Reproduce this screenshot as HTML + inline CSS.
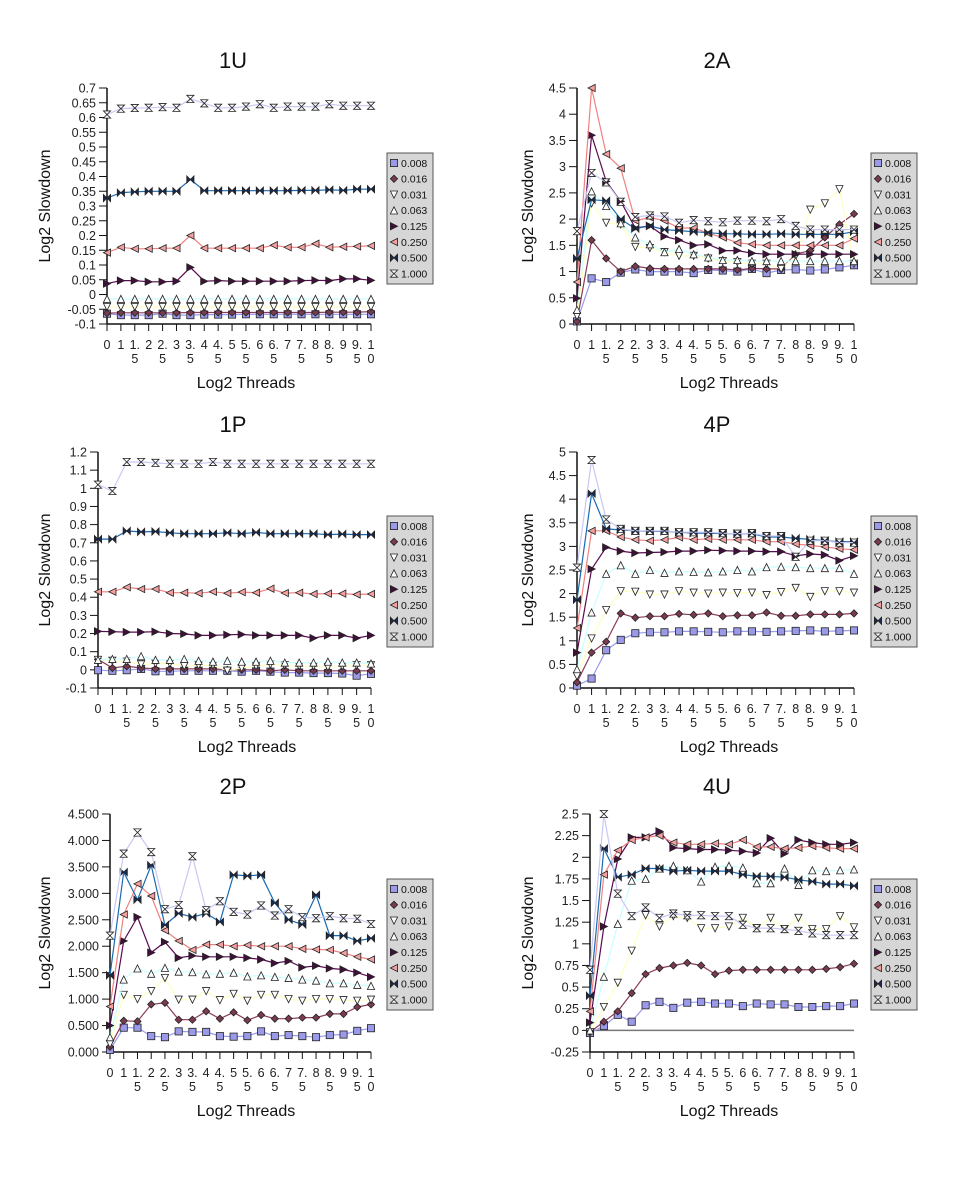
<!DOCTYPE html>
<html><head><meta charset="utf-8">
<style>
html,body{margin:0;padding:0;background:#fff;}
svg{display:block;font-family:"Liberation Sans","DejaVu Sans",sans-serif;}
</style></head>
<body>
<svg id="fig" width="961" height="1177" viewBox="0 0 961 1177" xmlns="http://www.w3.org/2000/svg"></svg>
<script>
const categories = ["0","1","1.5","2","2.5","3","3.5","4","4.5","5","5.5","6","6.5","7","7.5","8","8.5","9","9.5","10"];
const seriesNames = ["0.008","0.016","0.031","0.063","0.125","0.250","0.500","1.000"];

const u1_008 = [-.065,-.07,-.07,-.07,-.065,-.07,-.07,-.068,-.068,-.068,-.067,-.067,-.067,-.067,-.067,-.067,-.067,-.067,-.067,-.067];
const u1_016 = [-.063,-.062,-.062,-.062,-.062,-.062,-.061,-.061,-.061,-.061,-.061,-.061,-.061,-.061,-.061,-.061,-.06,-.06,-.06,-.058];
const u1_031 = [-.042,-.042,-.042,-.042,-.042,-.042,-.042,-.042,-.042,-.042,-.042,-.042,-.042,-.042,-.042,-.042,-.042,-.042,-.042,-.042];
const u1_063 = [-.015,-.015,-.015,-.015,-.015,-.015,-.015,-.015,-.015,-.015,-.015,-.015,-.015,-.015,-.015,-.015,-.015,-.015,-.015,-.015];
const u1_125 = [.037,.047,.047,.043,.043,.045,.092,.045,.047,.045,.045,.045,.045,.045,.047,.048,.047,.053,.053,.048];
const u1_250 = [.142,.16,.155,.155,.157,.157,.2,.157,.157,.157,.157,.157,.167,.16,.16,.172,.16,.162,.163,.165];
const u1_500 = [.327,.345,.348,.35,.35,.35,.39,.352,.352,.352,.352,.352,.352,.352,.353,.353,.355,.353,.357,.357];
const u1_1000 = [.61,.63,.632,.633,.635,.633,.663,.648,.633,.633,.637,.645,.633,.637,.637,.637,.645,.64,.64,.64];

const a2_008 = [.05,.87,.8,.98,1.04,1.0,1.0,1.0,.97,1.03,1.02,1.0,1.05,.97,1.03,1.04,1.02,1.04,1.08,1.12];
const a2_016 = [.05,1.6,1.25,1.0,1.1,1.06,1.05,1.05,1.05,1.05,1.05,1.03,1.06,1.05,1.05,1.33,1.4,1.65,1.9,2.1];
const a2_031 = [.15,2.3,1.93,1.9,1.47,1.45,1.37,1.3,1.3,1.25,1.2,1.18,1.15,1.15,1.05,1.3,2.18,2.3,2.57,1.15];
const a2_063 = [.27,2.53,2.25,1.92,1.65,1.52,1.37,1.43,1.33,1.27,1.22,1.22,1.2,1.2,1.2,1.2,1.2,1.2,1.2,1.2];
const a2_125 = [.49,3.6,2.72,2.34,1.83,1.87,1.67,1.6,1.5,1.52,1.4,1.4,1.35,1.33,1.33,1.33,1.33,1.33,1.33,1.33];
const a2_250 = [.8,4.5,3.24,2.97,1.97,2.03,1.97,1.83,1.83,1.73,1.65,1.55,1.52,1.5,1.5,1.5,1.5,1.5,1.5,1.63];
const a2_500 = [1.25,2.37,2.35,2.0,1.82,1.87,1.8,1.78,1.76,1.74,1.72,1.72,1.71,1.71,1.72,1.71,1.71,1.71,1.71,1.76];
const a2_1000 = [1.77,2.88,2.7,2.33,2.04,2.07,2.05,1.93,1.98,1.96,1.94,1.97,1.97,1.96,2.0,1.87,1.8,1.8,1.8,1.8];

const p1_008 = [-.002,-.005,-.002,.005,-.008,-.008,-.005,-.005,-.005,-.005,-.01,-.005,-.01,-.015,-.015,-.018,-.018,-.02,-.032,-.022];
const p1_016 = [.058,.01,.02,.01,.005,.005,.005,.005,.005,0,0,0,-.005,0,-.005,-.005,-.005,-.005,-.005,-.005];
const p1_031 = [.055,.05,.045,.03,.035,.035,.02,.025,.025,-.005,.01,.02,.03,.025,.02,.02,.015,.02,.025,.025];
const p1_063 = [.055,.06,.06,.075,.055,.055,.06,.05,.045,.05,.045,.045,.05,.04,.04,.04,.045,.04,.04,.035];
const p1_125 = [.212,.21,.208,.208,.21,.2,.198,.19,.19,.193,.195,.19,.19,.19,.19,.175,.19,.19,.175,.19];
const p1_250 = [.43,.43,.455,.445,.445,.425,.425,.422,.43,.422,.428,.425,.447,.423,.425,.418,.42,.42,.415,.418];
const p1_500 = [.72,.72,.765,.76,.762,.755,.75,.75,.75,.755,.75,.757,.75,.75,.75,.75,.745,.748,.745,.745];
const p1_1000 = [1.02,.985,1.145,1.145,1.14,1.135,1.135,1.135,1.145,1.135,1.135,1.135,1.135,1.135,1.135,1.135,1.135,1.135,1.135,1.135];

const p4_008 = [.05,.2,.8,1.02,1.16,1.18,1.18,1.2,1.2,1.19,1.18,1.2,1.2,1.19,1.2,1.21,1.22,1.2,1.21,1.22];
const p4_016 = [.12,.75,.98,1.58,1.49,1.52,1.52,1.57,1.55,1.58,1.52,1.54,1.54,1.6,1.53,1.53,1.56,1.56,1.56,1.58];
const p4_031 = [.25,1.05,1.65,2.05,2.04,1.98,1.98,2.05,2.02,2.0,2.02,2.01,2.02,1.97,2.03,2.12,1.93,2.05,2.05,2.02];
const p4_063 = [.4,1.6,2.42,2.6,2.42,2.5,2.44,2.47,2.46,2.45,2.47,2.5,2.47,2.56,2.57,2.56,2.54,2.54,2.54,2.42];
const p4_125 = [.75,2.52,2.98,2.9,2.86,2.87,2.88,2.9,2.9,2.92,2.91,2.9,2.9,2.89,2.89,2.8,2.84,2.82,2.7,2.8];
const p4_250 = [1.27,3.33,3.33,3.2,3.14,3.12,3.14,3.19,3.14,3.16,3.14,3.14,3.14,3.1,3.1,3.05,3.02,2.99,2.95,2.93];
const p4_500 = [1.87,4.12,3.37,3.35,3.33,3.32,3.32,3.3,3.28,3.28,3.27,3.27,3.27,3.2,3.2,3.17,3.15,3.12,3.1,3.1];
const p4_1000 = [2.55,4.83,3.57,3.37,3.33,3.33,3.33,3.3,3.3,3.3,3.28,3.27,3.28,3.22,3.22,2.78,3.12,3.12,3.08,3.08];

const p2_008 = [.04,.46,.46,.3,.28,.39,.38,.38,.3,.29,.3,.39,.3,.32,.3,.28,.32,.33,.4,.45];
const p2_016 = [.1,.59,.58,.9,.93,.61,.61,.77,.63,.75,.6,.7,.63,.63,.65,.65,.72,.72,.85,.9];
const p2_031 = [.15,1.08,1.0,1.15,1.4,.99,.99,1.15,.98,1.1,.97,1.08,1.08,1.0,.97,1.0,1.0,.98,.97,.99];
const p2_063 = [.28,1.37,1.58,1.48,1.59,1.52,1.51,1.47,1.48,1.5,1.43,1.45,1.42,1.4,1.37,1.35,1.3,1.3,1.27,1.25];
const p2_125 = [.5,2.1,2.55,1.88,2.08,1.78,1.82,1.8,1.8,1.8,1.78,1.75,1.68,1.72,1.6,1.63,1.58,1.56,1.5,1.42];
const p2_250 = [.86,2.6,3.18,2.95,2.3,2.1,1.93,2.03,2.03,2.0,2.02,2.0,2.0,2.0,1.95,1.94,1.93,1.87,1.8,1.75];
const p2_500 = [1.45,3.4,2.88,3.53,2.4,2.62,2.55,2.62,2.46,3.35,3.33,3.35,2.82,2.5,2.41,2.97,2.2,2.2,2.1,2.15];
const p2_1000 = [2.2,3.75,4.15,3.78,2.7,2.78,3.7,2.68,2.85,2.65,2.6,2.77,2.58,2.7,2.55,2.53,2.57,2.53,2.52,2.42];

const u4_008 = [-.03,.05,.18,.1,.29,.33,.26,.32,.33,.31,.31,.28,.31,.3,.3,.27,.27,.28,.28,.31];
const u4_016 = [-.02,.1,.22,.43,.65,.72,.75,.78,.75,.65,.69,.7,.7,.7,.7,.7,.7,.71,.73,.77];
const u4_031 = [-.02,.27,.55,.92,1.33,1.2,1.32,1.3,1.18,1.18,1.2,1.3,1.18,1.3,1.17,1.3,1.17,1.17,1.32,1.19];
const u4_063 = [0,.62,1.23,1.73,1.75,1.87,1.9,1.85,1.72,1.89,1.9,1.88,1.7,1.7,1.87,1.68,1.85,1.84,1.85,1.86];
const u4_125 = [.09,1.2,1.98,2.23,2.23,2.3,2.11,2.1,2.09,2.09,2.08,2.07,2.05,2.22,2.04,2.2,2.17,2.15,2.15,2.17];
const u4_250 = [.22,1.8,2.08,2.2,2.23,2.25,2.17,2.15,2.15,2.16,2.15,2.2,2.12,2.12,2.1,2.11,2.13,2.11,2.1,2.1];
const u4_500 = [.4,2.1,1.77,1.8,1.87,1.87,1.84,1.85,1.84,1.84,1.84,1.8,1.78,1.78,1.77,1.74,1.72,1.69,1.69,1.67];
const u4_1000 = [.7,2.5,1.58,1.32,1.42,1.3,1.35,1.33,1.33,1.32,1.32,1.22,1.18,1.18,1.17,1.15,1.12,1.1,1.1,1.1];

const ticks1U = ["0.7","0.65","0.6","0.55","0.5","0.45","0.4","0.35","0.3","0.25","0.2","0.15","0.1","0.05","0","-0.05","-0.1"];
const ticks2A = ["4.5","4","3.5","3","2.5","2","1.5","1","0.5","0"];
const ticks1P = ["1.2","1.1","1","0.9","0.8","0.7","0.6","0.5","0.4","0.3","0.2","0.1","0","-0.1"];
const ticks4P = ["5","4.5","4","3.5","3","2.5","2","1.5","1","0.5","0"];
const ticks2P = ["4.500","4.000","3.500","3.000","2.500","2.000","1.500","1.000","0.500","0.000"];
const ticks4U = ["2.5","2.25","2","1.75","1.5","1.25","1","0.75","0.5","0.25","0","-0.25"];

const lineColors = ["#9a9af0","#8a3a5a","#ffffc0","#c8ffff","#5a0a50","#f08080","#1a6ab0","#c8c8f4"];
const fillColors = ["#9a9ae8","#7a3a50","#ffffff","#ffffff","#40103a","#f4a0a0","#1a2a50","#ffffff"];

const NS = "http://www.w3.org/2000/svg";
const svg = document.getElementById("fig");
function mk(tag, attrs, parent){ const e=document.createElementNS(NS,tag); for(const k in attrs) e.setAttribute(k,attrs[k]); (parent||svg).appendChild(e); return e; }

function marker(g, k, x, y){
  const s=3.6, f=fillColors[k], st="#222";
  let d;
  if(k===0){ const e=mk("rect",{x:x-s,y:y-s,width:2*s,height:2*s,fill:f,stroke:st,"stroke-width":0.8},g); return e; }
  if(k===1) d=`M${x},${y-s}L${x+s},${y}L${x},${y+s}L${x-s},${y}Z`;
  if(k===2) d=`M${x-s},${y-s}L${x+s},${y-s}L${x},${y+s}Z`;
  if(k===3) d=`M${x-s},${y+s}L${x+s},${y+s}L${x},${y-s}Z`;
  if(k===4) d=`M${x-s},${y-s}L${x+s},${y}L${x-s},${y+s}Z`;
  if(k===5) d=`M${x+s},${y-s}L${x-s},${y}L${x+s},${y+s}Z`;
  if(k===6) d=`M${x-s},${y-s}L${x},${y}L${x-s},${y+s}Z M${x+s},${y-s}L${x},${y}L${x+s},${y+s}Z`;
  if(k===7) d=`M${x-s},${y-s}L${x+s},${y-s}L${x},${y}Z M${x-s},${y+s}L${x+s},${y+s}L${x},${y}Z`;
  return mk("path",{d:d,fill:f,stroke:st,"stroke-width":0.8},g);
}

function drawChart(cfg){
  const {name,title,x0,x1,yTop,yBot,ticks,series,legX,legY,zeroLine,titleX,yTitleX,xTitleX} = cfg;
  const g = mk("g",{});
  
  
  const tv = ticks.map(Number);
  const vmax = tv[0], vmin = tv[tv.length-1];
  const xs = i => x0 + (x1-x0)*i/(categories.length-1);
  const ys = v => yBot - (yBot-yTop)*(v-vmin)/(vmax-vmin);
  const t = mk("text",{x:titleX,y:yTop-20,"font-size":22,"text-anchor":"middle",fill:"#111"},g);
  t.textContent = title;
  
  
  const ya = mk("line",{x1:x0,y1:yTop,x2:x0,y2:yBot,stroke:"#111","stroke-width":1.5},g);
  
  
  tv.forEach((v,i)=>{
    const y=ys(v);
    mk("line",{x1:x0-8,y1:y,x2:x0,y2:y,stroke:"#111","stroke-width":1},g);
    const tl = mk("text",{x:x0-11,y:y+4.5,"font-size":12.5,"text-anchor":"end",fill:"#222"},g);
    tl.textContent = ticks[i];
    
    
  });
  if(zeroLine){
    const zl = mk("line",{x1:x0,y1:ys(0),x2:x1,y2:ys(0),stroke:"#777","stroke-width":1.5},g);
    
    
  }
  const xa = mk("line",{x1:x0,y1:yBot,x2:x1,y2:yBot,stroke:"#111","stroke-width":1.5},g);
  
  
  categories.forEach((c,i)=>{
    const x=xs(i);
    mk("line",{x1:x,y1:yBot,x2:x,y2:yBot+7,stroke:"#111","stroke-width":1},g);
    const l1 = c.length>1 ? c.slice(0,-1) : c;
    const l2 = c.length>1 ? c.slice(-1) : "";
    const tl = mk("text",{x:x,y:yBot+25,"font-size":12.5,"text-anchor":"middle",fill:"#222"},g);
    tl.textContent = l1;
    
    
    if(l2){
      const tl2 = mk("text",{x:x,y:yBot+39,"font-size":12.5,"text-anchor":"middle",fill:"#222"},g);
      tl2.textContent = l2;
      
      
    }
  });
  const xt = mk("text",{x:xTitleX,y:yBot+64,"font-size":16,"text-anchor":"middle",fill:"#111"},g);
  xt.textContent = "Log2 Threads";
  
  
  const yc=(yTop+yBot)/2;
  const yt = mk("text",{x:0,y:0,"font-size":16,"text-anchor":"middle",fill:"#111",transform:`translate(${yTitleX},${yc}) rotate(-90)`},g);
  yt.textContent = "Log2 Slowdown";
  
  
  series.forEach((vals,k)=>{
    const sg = mk("g",{},g);
    
    
    const pts = vals.map((v,i)=>xs(i).toFixed(1)+","+ys(v).toFixed(1)).join(" ");
    mk("polyline",{points:pts,fill:"none",stroke:lineColors[k],"stroke-width":1.2},sg);
    vals.forEach((v,i)=>{
      const m = marker(sg,k,xs(i),ys(v));
      
      
    });
  });
  const lg = mk("g",{},g);
  
  
  mk("rect",{x:legX,y:legY,width:46,height:131,fill:"#d6d6d6",stroke:"#555","stroke-width":1},lg);
  seriesNames.forEach((n,k)=>{
    const yy = legY+10+k*15.8;
    const e = mk("g",{},lg);
    
    
    marker(e,k,legX+7,yy);
    const tx = mk("text",{x:legX+14,y:yy+3.8,"font-size":10.5,fill:"#111"},e);
    tx.textContent = n;
  });
}

drawChart({name:"1u",title:"1U",x0:107,x1:371,yTop:88,yBot:324,ticks:ticks1U,legX:387,legY:153,titleX:233,yTitleX:50,xTitleX:246,
  series:[u1_008,u1_016,u1_031,u1_063,u1_125,u1_250,u1_500,u1_1000]});
drawChart({name:"2a",title:"2A",x0:577,x1:854,yTop:88,yBot:324,ticks:ticks2A,legX:871,legY:153,titleX:717,yTitleX:533,xTitleX:729,
  series:[a2_008,a2_016,a2_031,a2_063,a2_125,a2_250,a2_500,a2_1000]});
drawChart({name:"1p",title:"1P",x0:98,x1:371,yTop:452,yBot:688,ticks:ticks1P,legX:387,legY:516,titleX:233,yTitleX:50,xTitleX:247,
  series:[p1_008,p1_016,p1_031,p1_063,p1_125,p1_250,p1_500,p1_1000]});
drawChart({name:"4p",title:"4P",x0:577,x1:854,yTop:452,yBot:688,ticks:ticks4P,legX:871,legY:516,titleX:717,yTitleX:533,xTitleX:729,
  series:[p4_008,p4_016,p4_031,p4_063,p4_125,p4_250,p4_500,p4_1000]});
drawChart({name:"2p",title:"2P",x0:110,x1:371,yTop:814,yBot:1052,ticks:ticks2P,legX:387,legY:879,titleX:233,yTitleX:50,xTitleX:246,
  series:[p2_008,p2_016,p2_031,p2_063,p2_125,p2_250,p2_500,p2_1000]});
drawChart({name:"4u",title:"4U",x0:590,x1:854,yTop:814,yBot:1052,ticks:ticks4U,legX:871,legY:879,zeroLine:true,titleX:717,yTitleX:533,xTitleX:729,
  series:[u4_008,u4_016,u4_031,u4_063,u4_125,u4_250,u4_500,u4_1000]});
</script>
</body></html>
